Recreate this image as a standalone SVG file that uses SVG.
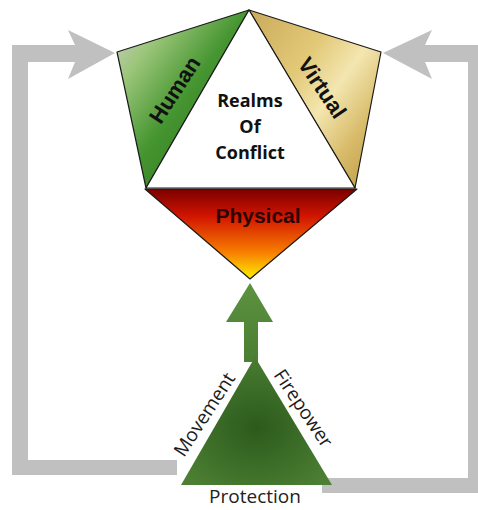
<svg xmlns="http://www.w3.org/2000/svg" width="478" height="510" viewBox="0 0 478 510">
<defs>
<linearGradient id="gHuman" x1="0" y1="0" x2="1" y2="1">
<stop offset="0" stop-color="#d0d0d0"/>
<stop offset="0.22" stop-color="#9cc67a"/>
<stop offset="0.5" stop-color="#459530"/>
<stop offset="1" stop-color="#286419"/>
</linearGradient>
<linearGradient id="gVirtual" x1="0" y1="0" x2="1" y2="1">
<stop offset="0" stop-color="#c9aa5a"/>
<stop offset="0.35" stop-color="#e2c978"/>
<stop offset="0.55" stop-color="#f3e6b0"/>
<stop offset="0.75" stop-color="#d9bd6c"/>
<stop offset="1" stop-color="#b8953e"/>
</linearGradient>
<linearGradient id="gPhys" x1="0" y1="0" x2="0" y2="1">
<stop offset="0" stop-color="#7a0000"/>
<stop offset="0.3" stop-color="#d11400"/>
<stop offset="0.7" stop-color="#f77d00"/>
<stop offset="1" stop-color="#ffee00"/>
</linearGradient>
<radialGradient id="gBase" cx="0.5" cy="0.55" r="0.6">
<stop offset="0" stop-color="#2c5a1c"/>
<stop offset="1" stop-color="#4c7f33"/>
</radialGradient>
<linearGradient id="gArrow" x1="0" y1="0" x2="0" y2="1">
<stop offset="0" stop-color="#5c9240"/>
<stop offset="1" stop-color="#4a7e32"/>
</linearGradient>
<style>
.edge{stroke:#1a1a1a;stroke-width:1.2;stroke-linejoin:round}
.loop{fill:#c0c0c0}
.bold{font-family:"Liberation Sans",Arial,sans-serif;font-weight:bold;fill:#111}
.realm{font-family:"Open Sans","Liberation Sans",sans-serif;font-weight:bold;font-size:18px;fill:#111;text-anchor:middle}
.side{font-family:"Open Sans","Liberation Sans",sans-serif;font-size:19px;fill:#1a1a1a;text-anchor:middle}
</style>
</defs>
<g id="connectors">
<polygon class="loop" points="177,475 12,475 12,45 75,45 68,30 115,53 68,79 75,62 28,62 28,460 177,460"/>
<polygon class="loop" points="322,478 468,478 468,62 425,62 432,79 383,53 432,30 425,45 478,45 478,493 322,493"/>
<polygon fill="url(#gArrow)" points="250,283 273,322 258,322 258,362 244,362 244,322 226,322"/>
</g>
<g id="human">
<polygon class="edge" fill="url(#gHuman)" points="117,52 249,10 146,188"/>
<text class="bold" font-size="22" text-anchor="middle" transform="translate(181,94) rotate(-57)">Human</text>
</g>
<g id="virtual">
<polygon class="edge" fill="url(#gVirtual)" points="249,10 381,52 355,188"/>
<text class="bold" font-size="22" text-anchor="middle" transform="translate(316,92) rotate(56)">Virtual</text>
</g>
<g id="realms">
<polygon class="edge" fill="#ffffff" points="249,10 355,188 146,188"/>
<text class="realm" x="250" y="107">Realms</text>
<text class="realm" x="250" y="133">Of</text>
<text class="realm" x="250" y="159">Conflict</text>
</g>
<g id="physical">
<polygon class="edge" fill="url(#gPhys)" points="145,189 357,189 250,279"/>
<text class="bold" font-size="21" text-anchor="middle" x="258" y="223" style="fill:#2a0505">Physical</text>
</g>
<g id="base">
<polygon fill="url(#gBase)" points="255,357 332,485 181,485"/>
<text class="side" transform="translate(210,418) rotate(-57)">Movement</text>
<text class="side" transform="translate(298,412) rotate(56)">Firepower</text>
<text class="side" x="255" y="503" font-size="18" style="fill:#222">Protection</text>
</g>
</svg>
